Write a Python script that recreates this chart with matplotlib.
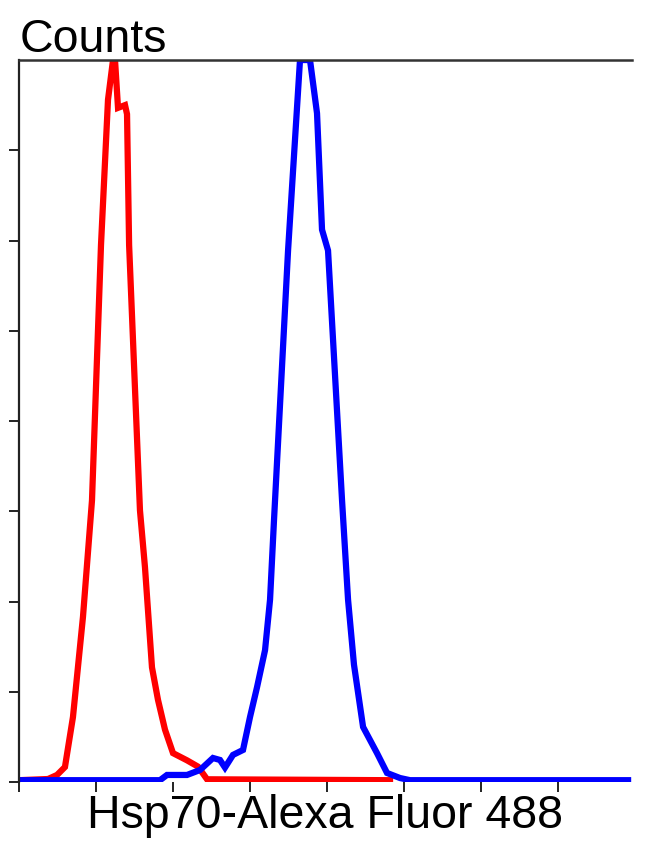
import numpy as np
import matplotlib.pyplot as plt

plt.rcParams['font.family'] = ['Liberation Sans', 'DejaVu Sans']

# red histogram (isotype / unstained control)
red_x = [0, 0.377, 0.494, 0.597, 0.701, 0.831, 0.948, 1.065, 1.156, 1.221, 1.247,
         1.286, 1.377, 1.403, 1.430, 1.571, 1.636, 1.727, 1.805, 1.896, 2.0,
         2.182, 2.325, 2.442, 4.818]
red_y = [0.02, 0.033, 0.078, 0.166, 0.72, 1.83, 3.12, 5.95, 7.56, 8.0, 8.0,
         7.47, 7.50, 7.40, 5.95, 3.01, 2.38, 1.27, 0.91, 0.58, 0.32,
         0.24, 0.17, 0.03, 0.02]

# blue histogram (Hsp70 stained)
blue_x = [0, 1.831, 1.922, 2.182, 2.351, 2.519, 2.61, 2.675, 2.779, 2.909, 3.0,
          3.091, 3.195, 3.26, 3.312, 3.494, 3.649, 3.779, 3.870, 3.935, 4.013,
          4.195, 4.273, 4.350, 4.468, 4.649, 4.779, 4.948, 5.078, 7.909]
blue_y = [0.02, 0.02, 0.078, 0.078, 0.133, 0.266, 0.244, 0.16, 0.30, 0.355, 0.72,
          1.05, 1.46, 2.02, 2.91, 5.89, 8.0, 8.0, 7.41, 6.12, 5.89,
          3.12, 2.02, 1.30, 0.61, 0.32, 0.10, 0.044, 0.02, 0.02]

fig = plt.figure(figsize=(6.5, 8.5), dpi=100)
ax = fig.add_axes([0.0292, 0.08, 0.9431, 0.8494])

ax.plot(red_x, red_y, color='#ff0000', lw=4.5, solid_joinstyle='miter')
ax.plot(blue_x, blue_y, color='#0000ff', lw=4.5, solid_joinstyle='miter')

ax.set_xlim(0, 7.96)
ax.set_ylim(0, 8)
ax.set_xticks(range(8))
ax.set_yticks(range(8))
ax.set_xticklabels([])
ax.set_yticklabels([])
ax.tick_params(axis='both', direction='out', length=7, width=1.4, color='#222222')

ax.spines['right'].set_visible(False)
ax.spines['bottom'].set_visible(False)
ax.spines['top'].set_linewidth(1.8)
ax.spines['top'].set_color('#333333')
ax.spines['left'].set_linewidth(1.6)
ax.spines['left'].set_color('#222222')

ax.set_xlabel('Hsp70-Alexa Fluor 488', fontsize=33.5, labelpad=-2)
fig.text(0.03, 1 - 52 / 850, 'Counts', fontsize=33.5, va='baseline', ha='left')

fig.savefig('out.png', dpi=100)
